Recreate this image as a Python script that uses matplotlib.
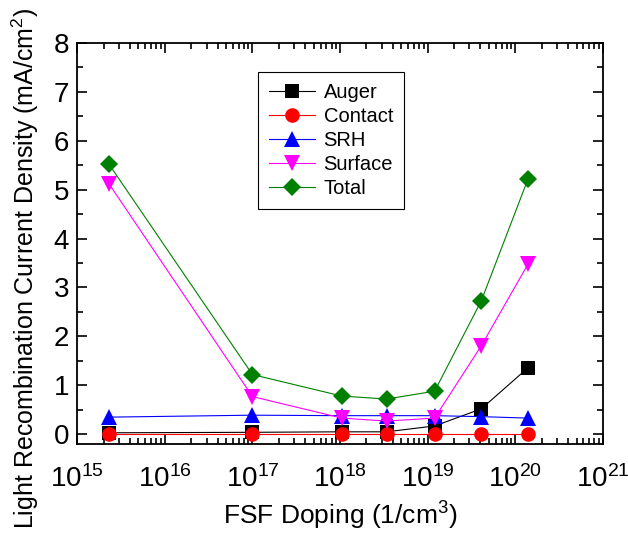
import matplotlib
matplotlib.use('Agg')
from matplotlib import pyplot as plt
from matplotlib.ticker import LogLocator, MultipleLocator, NullFormatter
import numpy as np

plt.rcParams['font.family'] = ['Liberation Sans', 'DejaVu Sans']
plt.rcParams['mathtext.fontset'] = 'custom'
plt.rcParams['mathtext.rm'] = 'Liberation Sans'

doping = [2.3e15, 1.0e17, 1.05e18, 3.4e18, 1.2e19, 4.1e19, 1.4e20]
auger = [0.03, 0.04, 0.05, 0.05, 0.17, 0.52, 1.36]
contact = [0.0, 0.0, 0.0, 0.0, 0.0, 0.0, 0.0]
srh = [0.35, 0.39, 0.38, 0.38, 0.38, 0.36, 0.33]
surface = [5.12, 0.77, 0.33, 0.27, 0.33, 1.81, 3.48]
total = [5.52, 1.22, 0.78, 0.72, 0.88, 2.73, 5.22]

series = [
    ('Auger', auger, 'black', 's', 9.5),
    ('Contact', contact, 'red', 'o', 10.5),
    ('SRH', srh, 'blue', '^', 11),
    ('Surface', surface, 'magenta', 'v', 11),
    ('Total', total, 'green', 'D', 9.5),
]

fig = plt.figure(figsize=(6.28, 5.35), dpi=100)
ax = fig.add_axes([0.123, 0.170, 0.837, 0.750])

for name, vals, col, mk, ms in series:
    ax.plot(doping, vals, color=col, marker=mk, markersize=ms, linewidth=0.8,
            markeredgewidth=0, label=name)

ax.set_xscale('log')
ax.set_ylim(-0.2, 8)
ax.yaxis.set_major_locator(MultipleLocator(1))
ax.yaxis.set_minor_locator(MultipleLocator(0.5))
ax.set_xticks(np.logspace(15, 21, 7))
ax.xaxis.set_minor_locator(LogLocator(base=10, subs=np.arange(2, 10), numticks=20))
ax.xaxis.set_minor_formatter(NullFormatter())
ax.set_xlim(1e15, 1e21)

ax.tick_params(which='both', direction='in', top=True, right=True, width=1.2)
ax.tick_params(which='major', length=7, labelsize=20)
ax.tick_params(which='minor', length=4)
ax.tick_params(axis='x', pad=15)
ax.tick_params(axis='y', pad=6)
for s in ax.spines.values():
    s.set_linewidth(1.3)

ax.set_xlabel('FSF Doping (1/cm$^3$)', fontsize=19, labelpad=4)
ax.set_ylabel('Light Recombination Current Density (mA/cm$^2$)', fontsize=18, va='center')
ax.yaxis.set_label_coords(-0.098, 0.437)

leg = ax.legend(loc='upper left', bbox_to_anchor=(0.344, 0.928), fontsize=14.5,
                borderaxespad=0, fancybox=False, edgecolor='black', framealpha=1,
                handlelength=2.3, labelspacing=0.25, borderpad=0.55, handletextpad=0.4)
leg.get_frame().set_linewidth(0.8)

fig.savefig('out.png', dpi=100)
